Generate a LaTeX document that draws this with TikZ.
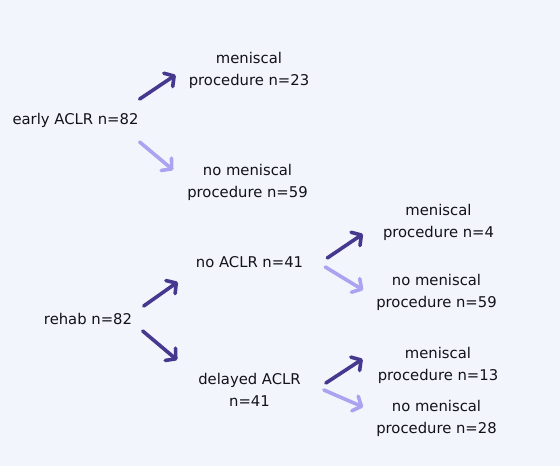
\documentclass[tikz,border=0pt]{standalone}
\usepackage{fontspec}
\setmainfont{DejaVu Sans}
\usetikzlibrary{arrows.meta}
\definecolor{bgBlue}{RGB}{242,245,252}
\definecolor{darkArrow}{RGB}{68,57,142}
\definecolor{lightArrow}{RGB}{170,163,240}
\definecolor{labelText}{RGB}{18,18,24}
\begin{document}
\begin{tikzpicture}[x=1pt, y=-1pt,
	label/.style={inner sep=0pt, align=center, text=labelText, font=\fontsize{14.8}{22}\selectfont},
	darkEdge/.style={draw=darkArrow, line width=3.6pt, line cap=round, -{Straight Barb[length=7pt, width=16pt, line cap=round, line join=round]}},
	lightEdge/.style={darkEdge, draw=lightArrow}]
		\fill[bgBlue] (0,0) rectangle (560,466);

		\node[label](earlyBox) at (75.5,120){early ACLR n=82};
		\node[label](menEarly) at (249,70){meniscal\\procedure n=23};
		\node[label](noMenEarly) at (247.5,182){no meniscal\\procedure n=59};

		\node[label](rehabBox) at (88,319){rehab n=82};
		\node[label](noAclrBox) at (249.5,262){no ACLR n=41};
		\node[label](delayedBox) at (249.5,390){delayed ACLR\\n=41};

		\node[label](menNoAclr) at (438.5,222){meniscal\\procedure n=4};
		\node[label](noMenNoAclr) at (436.5,292){no meniscal\\procedure n=59};
		\node[label](menDelayed) at (438,365){meniscal\\procedure n=13};
		\node[label](noMenDelayed) at (436.5,418){no meniscal\\procedure n=28};

		% draw early ACLR edges
		\draw[darkEdge] ([shift={(1,-21)}]earlyBox.east) -- ([shift={(-13,5)}]menEarly.west);
		\draw[lightEdge] ([shift={(1,22)}]earlyBox.east) -- ([shift={(-14,-12)}]noMenEarly.west);

		% draw rehab edges
		\draw[darkEdge] ([shift={(11.5,-13)}]rehabBox.east) -- ([shift={(-18,20)}]noAclrBox.west);
		\draw[darkEdge] ([shift={(10.5,12)}]rehabBox.east) -- ([shift={(-21,-30)}]delayedBox.west);

		% draw meniscal edges
		\draw[darkEdge] ([shift={(24,-4)}]noAclrBox.east) -- ([shift={(-20,12)}]menNoAclr.west);
		\draw[lightEdge] ([shift={(22,5)}]noAclrBox.east) -- ([shift={(-13,-2)}]noMenNoAclr.west);
		\draw[darkEdge] ([shift={(25,-7)}]delayedBox.east) -- ([shift={(-15,-6)}]menDelayed.west);
		\draw[lightEdge] ([shift={(23,0)}]delayedBox.east) -- ([shift={(-13,-11)}]noMenDelayed.west);

	\end{tikzpicture}
\end{document}
